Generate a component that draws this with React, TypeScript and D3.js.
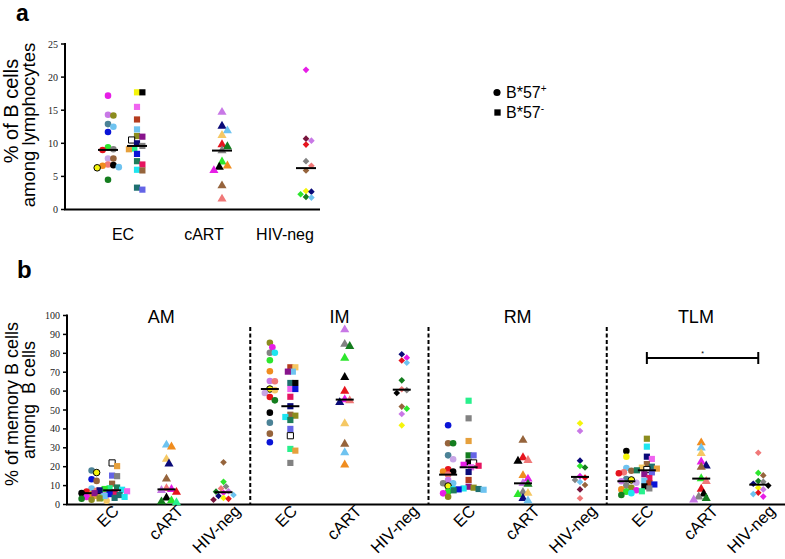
import React from 'react';
import * as d3 from 'd3';

const palette: Record<string, string> = {
  mag: '#e61ee6', olive: '#8c8c1e', violet: '#c878e6', steel: '#4b8296', ltblue: '#6ec3f0',
  blue: '#0a14d7', lime: '#2de62d', red: '#e6141e', gray: '#828282', lilac: '#c8a5e6',
  brown: '#96643c', black: '#000000', orange: '#f08c1e', salmon: '#f07878', dkgreen: '#147d1e',
  yellow: '#f5f50a', cyan: '#1ee6f0', navy: '#0a0a78', purple: '#87148c', mint: '#28f08c',
  teal: '#1e7d5a', peri: '#6464e6', crimson: '#e61460', dkteal: '#1e7070', ltorange: '#f5c864',
  maroon: '#78143c', brownred: '#b43c1e', pink: '#f064f0', gold: '#e6a03c',
  yellowK: '#f5f50a', open: '#ffffff',
};

// ---------- Panel a: % of B cells among lymphocytes ----------
const aGroups = ['EC', 'cART', 'HIV-neg'];
const aTicks = [0, 5, 10, 15, 20, 25];
const aEcPosVals = [17.2, 14.2, 14.3, 12.9, 12.5, 11.7, 9.4, 9.0, 9.1, 7.7, 7.7, 6.7, 6.4, 6.3, 6.6, 6.8, 4.5];
const aEcPosCols = ['mag', 'olive', 'violet', 'steel', 'ltblue', 'blue', 'lime', 'red', 'gray', 'lilac', 'brown', 'black', 'ltblue', 'yellowK', 'orange', 'salmon', 'dkgreen'];
const aEcNegVals = [17.7, 17.7, 15.5, 13.6, 12.1, 11.1, 11.0, 10.5, 10.0, 9.6, 9.1, 9.2, 8.4, 7.3, 6.8, 6.0, 5.9, 3.0, 3.3];
const aEcNegCols = ['yellow', 'black', 'pink', 'brownred', 'ltblue', 'olive', 'purple', 'open', 'navy', 'gray', 'gold', 'mint', 'blue', 'teal', 'crimson', 'cyan', 'brown', 'peri', 'dkteal'];
const aCartVals = [14.7, 12.6, 11.9, 11.2, 9.8, 9.5, 8.9, 7.2, 6.6, 6.4, 5.9, 3.6, 1.6];
const aCartCols = ['violet', 'navy', 'ltblue', 'ltorange', 'red', 'dkgreen', 'gray', 'lime', 'orange', 'black', 'mag', 'brown', 'salmon'];
const aHivVals = [21.1, 10.7, 10.4, 9.8, 7.3, 6.6, 5.9, 2.8, 2.7, 2.3, 1.8, 1.9];
const aHivCols = ['mag', 'maroon', 'violet', 'red', 'gray', 'salmon', 'brown', 'yellow', 'navy', 'lime', 'ltblue', 'dkgreen'];

// ---------- Panel b: % of memory B cells among B cells ----------
const bPanels = ['AM', 'IM', 'RM', 'TLM'];
const bTicks = [0, 10, 20, 30, 40, 50, 60, 70, 80, 90, 100];
const bSubgroups = ['ECpos', 'ECneg', 'cART', 'HIV-neg'];
const bTickLabels = ['EC', 'cART', 'HIV-neg'];

const amEcPosVals = [18, 16.9, 13.4, 12.5, 8.5, 7.2, 6.8, 6.2, 6, 5.5, 5, 4.5, 4, 3.5, 3, 2.5, 2];
const amEcPosCols = ['steel', 'yellowK', 'blue', 'brown', 'ltblue', 'salmon', 'red', 'lilac', 'black', 'orange', 'violet', 'gold', 'mag', 'lime', 'dkgreen', 'olive', 'ltorange'];
const amEcNegVals = [22, 20.3, 15.3, 15, 11, 9, 8.6, 8.2, 7.8, 7.5, 7, 6.5, 6, 5.5, 5, 4.5, 4, 3.5, 3.2];
const amEcNegCols = ['open', 'gold', 'peri', 'gray', 'brown', 'teal', 'mint', 'lime', 'cyan', 'navy', 'pink', 'crimson', 'purple', 'blue', 'dkteal', 'ltblue', 'cyan', 'dkteal', 'olive'];
const amCartVals = [31.5, 30.5, 24, 21.5, 13.5, 8.5, 8, 7.5, 6.5, 3.5, 2, 1.5, 1];
const amCartCols = ['ltblue', 'orange', 'ltorange', 'navy', 'brown', 'salmon', 'mag', 'violet', 'red', 'black', 'lime', 'dkgreen', 'mint'];
const amHivVals = [22.3, 12, 9.5, 8.5, 7, 6.8, 6.2, 5, 4.5, 3.5, 3, 2.5];
const amHivCols = ['brown', 'lime', 'gray', 'salmon', 'violet', 'dkgreen', 'mag', 'ltblue', 'navy', 'yellow', 'red', 'maroon'];

const imEcPosVals = [85.6, 83.2, 80.3, 80.3, 76.3, 70.5, 65.3, 65.2, 61.1, 60.5, 59, 56.9, 55.1, 48.6, 43.3, 37.5, 32.9];
const imEcPosCols = ['olive', 'mag', 'gray', 'cyan', 'lime', 'orange', 'violet', 'salmon', 'yellowK', 'ltorange', 'lilac', 'red', 'dkgreen', 'black', 'steel', 'brown', 'blue'];
const imEcNegVals = [72.6, 72.6, 70.3, 70.3, 64.3, 64.3, 61.1, 61.1, 57, 52, 47.5, 47, 46.3, 44.7, 40, 36.4, 29.4, 28.5, 22];
const imEcNegCols = ['brownred', 'ltorange', 'ltblue', 'purple', 'dkteal', 'black', 'pink', 'blue', 'crimson', 'navy', 'brown', 'olive', 'cyan', 'teal', 'peri', 'open', 'mint', 'gold', 'gray'];
const imCartVals = [92.5, 84.8, 83.7, 77.5, 67.3, 60, 55.5, 55, 54, 42.8, 32, 27.5, 21];
const imCartCols = ['violet', 'gray', 'dkgreen', 'lime', 'black', 'red', 'mag', 'salmon', 'navy', 'ltorange', 'brown', 'ltblue', 'orange'];
const imHivVals = [79.5, 77.7, 76.2, 75, 65.7, 61, 60.5, 59, 51.8, 50.7, 47.9, 41.9];
const imHivCols = ['navy', 'mag', 'red', 'ltblue', 'dkgreen', 'salmon', 'gray', 'black', 'brown', 'lime', 'violet', 'yellow'];

const rmEcPosVals = [41.9, 32.4, 32.4, 26, 23.9, 18.6, 17.4, 17.4, 15.8, 13, 11.2, 11.2, 9.8, 8.2, 6.8, 5.9, 4.1];
const rmEcPosCols = ['blue', 'brown', 'dkgreen', 'steel', 'lilac', 'red', 'black', 'orange', 'salmon', 'violet', 'ltblue', 'gray', 'yellowK', 'cyan', 'lime', 'mag', 'olive'];
const rmEcNegVals = [54.9, 45.6, 33.6, 26, 26, 22.3, 22, 21, 20.5, 19.7, 17.2, 13, 9.4, 8.9, 8.5, 8.2, 8, 7.8, 7.5];
const rmEcNegCols = ['mint', 'gray', 'gold', 'dkgreen', 'peri', 'black', 'open', 'mag', 'crimson', 'pink', 'navy', 'brownred', 'purple', 'olive', 'cyan', 'dkteal', 'blue', 'ltblue', 'teal'];
const rmCartVals = [34, 24.8, 23.4, 23, 15.4, 13.5, 11.2, 10.8, 6.5, 6, 5.3, 3.3, 2];
const rmCartCols = ['brown', 'red', 'salmon', 'black', 'orange', 'mag', 'violet', 'dkgreen', 'gray', 'ltorange', 'lime', 'navy', 'ltblue'];
const rmHivVals = [43, 38.9, 23.2, 20.4, 19.6, 15, 14.2, 13, 11.9, 10.3, 8, 3.3];
const rmHivCols = ['yellow', 'violet', 'navy', 'lime', 'dkgreen', 'mag', 'red', 'gray', 'ltblue', 'brown', 'maroon', 'salmon'];

const tlmEcPosVals = [28.3, 25.3, 19.3, 17.9, 17, 16.5, 13.5, 13, 12.3, 11.5, 10, 8.9, 8, 7.5, 6.8, 6, 5];
const tlmEcPosCols = ['black', 'yellow', 'ltblue', 'brown', 'salmon', 'red', 'steel', 'yellowK', 'violet', 'lilac', 'gray', 'olive', 'orange', 'mag', 'lime', 'cyan', 'dkgreen'];
const tlmEcNegVals = [34.8, 30.6, 25.3, 24.1, 21.4, 20, 19.5, 19, 18.5, 18.1, 17, 16, 14, 12.5, 11.2, 10.6, 9.6, 8.5, 7];
const tlmEcNegCols = ['olive', 'cyan', 'navy', 'pink', 'brown', 'dkteal', 'ltorange', 'gold', 'open', 'teal', 'peri', 'purple', 'crimson', 'ltblue', 'brownred', 'blue', 'black', 'gray', 'mint'];
const tlmCartVals = [32.7, 29.9, 27, 22.6, 20.5, 19.8, 13.7, 12.3, 8.2, 5.6, 4.1, 3.3, 2.5];
const tlmCartCols = ['orange', 'ltblue', 'ltorange', 'mag', 'navy', 'brown', 'lime', 'salmon', 'red', 'black', 'gray', 'dkgreen', 'violet'];
const tlmHivVals = [27.4, 16.7, 15.4, 12.4, 12, 11, 10, 8.9, 8, 6.2, 5.5, 4.2];
const tlmHivCols = ['salmon', 'lime', 'brown', 'dkgreen', 'gray', 'navy', 'black', 'yellow', 'violet', 'red', 'ltblue', 'mag'];

const sigValue = 77.5;

// ---------- helpers ----------
const FONT = 'Liberation Sans, Arial, Helvetica, sans-serif';
const SERIF = 'Liberation Serif, Times New Roman, serif';

type Pt = { x: number; y: number; c: string };

function swarm(vals: number[], cols: string[], cx: number, y: (v: number) => number, minD: number, step: number): Pt[] {
  const order = vals.map((_, i) => i).sort((a, b) => vals[b] - vals[a]);
  const placed: Pt[] = [];
  for (const i of order) {
    const py = y(vals[i]);
    let px = cx;
    for (let n = 0; n < 60; n++) {
      const off = n === 0 ? 0 : (n % 2 === 1 ? 1 : -1) * Math.ceil(n / 2) * step;
      const cand = cx + off;
      if (placed.every(p => Math.hypot(p.x - cand, p.y - py) >= minD)) { px = cand; break; }
    }
    placed.push({ x: px, y: py, c: cols[i] });
  }
  return placed;
}

const shapes: Record<string, d3.SymbolType> = {
  circle: d3.symbolCircle, square: d3.symbolSquare, triangle: d3.symbolTriangle, diamond: d3.symbolSquare,
};
const sizes: Record<string, number> = { circle: 34, square: 38, triangle: 36, diamond: 22 };
const rotations: Record<string, number> = { circle: 0, square: 0, triangle: 0, diamond: 45 };

function Markers({ pts, shape }: { pts: Pt[]; shape: string }) {
  const path = d3.symbol().type(shapes[shape]).size(sizes[shape])() as string;
  return (
    <g>
      {pts.map((p, i) => (
        <path key={i} d={path} transform={`translate(${p.x},${p.y}) rotate(${rotations[shape]})`} fill={palette[p.c]}
          stroke={p.c === 'open' || p.c === 'yellowK' ? '#000' : 'none'} strokeWidth={1} />
      ))}
    </g>
  );
}

function Median({ vals, cx, y, w }: { vals: number[]; cx: number; y: (v: number) => number; w: number }) {
  const m = d3.median(vals) as number;
  return <line x1={cx - w / 2} x2={cx + w / 2} y1={y(m)} y2={y(m)} stroke="#000" strokeWidth={2} />;
}

export default function App() {
  const W = 785, H = 559;

  // panel a scales
  const yA = d3.scaleLinear().domain([0, 25]).range([209.5, 44]);
  const xA = d3.scalePoint<string>().domain(aGroups).range([123, 285]);
  const aSeries = [
    { vals: aEcPosVals, cols: aEcPosCols, shape: 'circle', cx: xA('EC')! - 15 },
    { vals: aEcNegVals, cols: aEcNegCols, shape: 'square', cx: xA('EC')! + 14 },
    { vals: aCartVals, cols: aCartCols, shape: 'triangle', cx: xA('cART')! + 18 },
    { vals: aHivVals, cols: aHivCols, shape: 'diamond', cx: xA('HIV-neg')! + 21 },
  ];

  // panel b scales
  const yB = d3.scaleLinear().domain([0, 100]).range([504.5, 315.5]);
  const xB = d3.scaleBand<string>().domain(bPanels).range([72, 785]);
  const inner = d3.scaleOrdinal<string, number>().domain(bSubgroups).range([0.11, 0.225, 0.53, 0.85]);
  const sub = (panel: string, g: string) => xB(panel)! + inner(g) * xB.bandwidth();
  const bData: Record<string, { vals: number[]; cols: string[] }[]> = {
    AM: [{ vals: amEcPosVals, cols: amEcPosCols }, { vals: amEcNegVals, cols: amEcNegCols }, { vals: amCartVals, cols: amCartCols }, { vals: amHivVals, cols: amHivCols }],
    IM: [{ vals: imEcPosVals, cols: imEcPosCols }, { vals: imEcNegVals, cols: imEcNegCols }, { vals: imCartVals, cols: imCartCols }, { vals: imHivVals, cols: imHivCols }],
    RM: [{ vals: rmEcPosVals, cols: rmEcPosCols }, { vals: rmEcNegVals, cols: rmEcNegCols }, { vals: rmCartVals, cols: rmCartCols }, { vals: rmHivVals, cols: rmHivCols }],
    TLM: [{ vals: tlmEcPosVals, cols: tlmEcPosCols }, { vals: tlmEcNegVals, cols: tlmEcNegCols }, { vals: tlmCartVals, cols: tlmCartCols }, { vals: tlmHivVals, cols: tlmHivCols }],
  };
  const bShapes = ['circle', 'square', 'triangle', 'diamond'];

  return (
    <svg width={W} height={H} style={{ position: 'absolute', left: 0, top: 0, background: '#fff' }} fontFamily={FONT}>
      {/* Panel labels */}
      <text x={16} y={21} fontSize={23} fontWeight="bold">a</text>
      <text x={17} y={278} fontSize={24} fontWeight="bold">b</text>

      {/* ===== Panel a ===== */}
      <text transform={`translate(18,111) rotate(-90)`} textAnchor="middle" fontSize={20}>% of B cells</text>
      <text transform={`translate(35,125) rotate(-90)`} textAnchor="middle" fontSize={18.5}>among lymphocytes</text>
      {aTicks.map(t => (
        <g key={t}>
          <line x1={61} x2={65} y1={yA(t)} y2={yA(t)} stroke="#000" strokeWidth={1.5} />
          <text x={58} y={yA(t) + 3.5} textAnchor="end" fontSize={10} fontFamily={SERIF} fill="#222">{t}</text>
        </g>
      ))}
      <line x1={65} x2={65} y1={yA(25) - 1} y2={yA(0)} stroke="#000" strokeWidth={2} />
      <line x1={64} x2={320} y1={yA(0)} y2={yA(0)} stroke="#000" strokeWidth={2} />
      {aGroups.map(g => (
        <text key={g} x={xA(g)} y={240} textAnchor="middle" fontSize={16}>{g}</text>
      ))}
      {aSeries.map((s, i) => {
        const pts = swarm(s.vals, s.cols, s.cx, yA, 5.4, 2.7);
        return (
          <g key={i}>
            <Markers pts={pts} shape={s.shape} />
            <Median vals={s.vals} cx={s.cx} y={yA} w={20} />
          </g>
        );
      })}

      {/* legend */}
      <path d={d3.symbol().type(d3.symbolCircle).size(40)() as string} transform="translate(497,92.5)" fill="#000" />
      <text x={506} y={98} fontSize={16}>B*57<tspan fontSize={10} dy={-6}>+</tspan></text>
      <path d={d3.symbol().type(d3.symbolSquare).size(40)() as string} transform="translate(497.5,112.5)" fill="#000" />
      <text x={506} y={118} fontSize={16}>B*57<tspan fontSize={10} dy={-6}>-</tspan></text>

      {/* ===== Panel b ===== */}
      <text transform={`translate(18,404) rotate(-90)`} textAnchor="middle" fontSize={18}>% of memory B cells</text>
      <text transform={`translate(35,400) rotate(-90)`} textAnchor="middle" fontSize={18} style={{ whiteSpace: 'pre' }}>{'among  B cells'}</text>
      {bTicks.map(t => (
        <g key={t}>
          <line x1={63} x2={67} y1={yB(t)} y2={yB(t)} stroke="#000" strokeWidth={1.5} />
          <text x={60} y={yB(t) + 3.5} textAnchor="end" fontSize={10} fontFamily={SERIF} fill="#222">{t}</text>
        </g>
      ))}
      <line x1={67} x2={67} y1={yB(100) - 1} y2={yB(0)} stroke="#000" strokeWidth={2} />
      <line x1={66} x2={785} y1={yB(0)} y2={yB(0)} stroke="#000" strokeWidth={2} />
      {bPanels.slice(1).map(p => (
        <line key={p} x1={xB(p)} x2={xB(p)} y1={327} y2={yB(0)} stroke="#000" strokeWidth={2} strokeDasharray="4,2.5" />
      ))}
      {bPanels.map(p => (
        <g key={p}>
          <text x={xB(p)! + xB.bandwidth() / 2} y={323} textAnchor="middle" fontSize={18}>{p}</text>
          {bData[p].map((s, i) => {
            const cx = sub(p, bSubgroups[i]);
            const pts = swarm(s.vals, s.cols, cx, yB, 5.0, 2.5);
            return (
              <g key={i}>
                <Markers pts={pts} shape={bShapes[i]} />
                <Median vals={s.vals} cx={cx} y={yB} w={18} />
              </g>
            );
          })}
          {bTickLabels.map((lab, i) => {
            const cx = i === 0 ? (sub(p, 'ECpos') + sub(p, 'ECneg')) / 2 : sub(p, bSubgroups[i + 1]);
            return (
              <text key={lab} transform={`translate(${cx + 18},512) rotate(-45)`} textAnchor="end" fontSize={16.5}>{lab}</text>
            );
          })}
        </g>
      ))}
      {/* significance bracket TLM: EC (B*57-) vs HIV-neg */}
      {(() => {
        const x1 = sub('TLM', 'ECneg'), x2 = sub('TLM', 'HIV-neg'), y = yB(sigValue);
        return (
          <g stroke="#000" strokeWidth={2}>
            <line x1={x1} x2={x2} y1={y} y2={y} />
            <line x1={x1} x2={x1} y1={y - 6} y2={y + 6} />
            <line x1={x2} x2={x2} y1={y - 6} y2={y + 6} />
            <text x={(x1 + x2) / 2} y={y - 2} textAnchor="middle" fontSize={7} stroke="none">*</text>
          </g>
        );
      })()}
    </svg>
  );
}
